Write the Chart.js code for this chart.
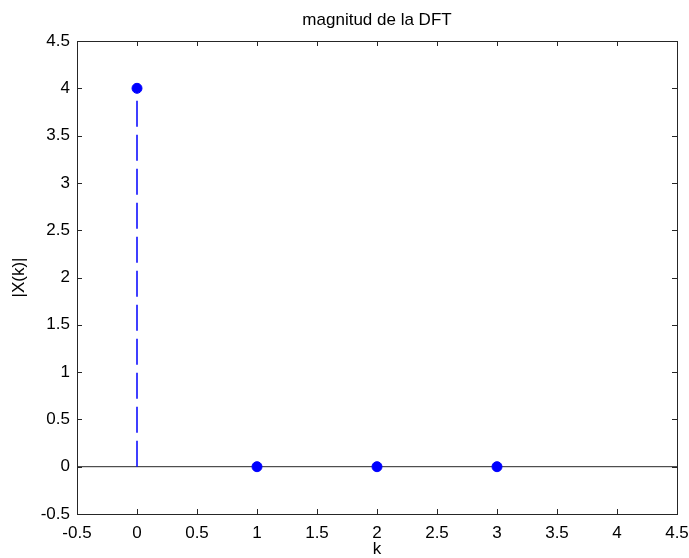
<!DOCTYPE html>
<html>
<head>
<meta charset="utf-8">
<script src="https://cdn.jsdelivr.net/npm/chart.js@4/dist/chart.umd.min.js"></script>
<style>
  html, body { margin: 0; padding: 0; background: #fff; }
  #wrap { width: 689px; height: 558px; }
</style>
</head>
<body>
<div id="wrap"><canvas id="myChart"></canvas></div>
<script>
// stem plot data: |X(k)|
let kValues = [0, 1, 2, 3];
let magnitudes = [4, 0, 0, 0];
let axisMin = -0.5;
let axisMax = 4.5;
let tickStep = 0.5;

let blue = "#0000ff";
let axisColor = "#262626";

// one dashed line per stem, from 0 up to the value
let stemSets = kValues.map((k, i) => ({
    type: "line",
    data: [{ x: k, y: 0 }, { x: k, y: magnitudes[i] }],
    borderColor: blue,
    borderWidth: 1.5,
    borderDash: [26, 8],
    pointRadius: 0,
    order: 2
}));

// baseline at zero across the whole axis
let baseline = {
    type: "line",
    data: [{ x: axisMin, y: 0 }, { x: axisMax, y: 0 }],
    borderColor: axisColor,
    borderWidth: 1,
    pointRadius: 0,
    order: 3
};

let markers = {
    type: "scatter",
    data: kValues.map((k, i) => ({ x: k, y: magnitudes[i] })),
    backgroundColor: blue,
    borderColor: blue,
    pointRadius: 5,
    pointHoverRadius: 5,
    order: 1
};

// MATLAB style box with inward ticks on every side
const boxTicks = {
    id: "boxTicks",
    afterDraw(chart) {
        const ctx = chart.ctx;
        const a = chart.chartArea;
        const xs = chart.scales.x;
        const ys = chart.scales.y;
        const len = 5;
        ctx.save();
        ctx.strokeStyle = axisColor;
        ctx.lineWidth = 1;
        ctx.beginPath();
        xs.ticks.forEach(t => {
            let px = Math.round(xs.getPixelForValue(t.value)) + 0.5;
            ctx.moveTo(px, a.bottom); ctx.lineTo(px, a.bottom - len);
            ctx.moveTo(px, a.top); ctx.lineTo(px, a.top + len);
        });
        ys.ticks.forEach(t => {
            let py = Math.round(ys.getPixelForValue(t.value)) + 0.5;
            ctx.moveTo(a.left, py); ctx.lineTo(a.left + len, py);
            ctx.moveTo(a.right, py); ctx.lineTo(a.right - len, py);
        });
        ctx.stroke();
        ctx.strokeRect(Math.round(a.left) + 0.5, Math.round(a.top) + 0.5,
            Math.round(a.right - a.left), Math.round(a.bottom - a.top));
        ctx.restore();
    }
};

let tickFont = { family: "'Liberation Sans', Arial, sans-serif", size: 17 };
let fmt = v => String(Math.round(v * 10) / 10);

new Chart(document.getElementById("myChart"), {
    data: { datasets: [...stemSets, baseline, markers] },
    options: {
        responsive: true,
        maintainAspectRatio: false,
        animation: false,
        layout: { padding: { left: 0, right: 12, top: 0, bottom: 0 } },
        plugins: {
            legend: { display: false },
            tooltip: { enabled: false },
            title: { display: false }
        },
        scales: {
            x: {
                type: "linear",
                min: axisMin,
                max: axisMax,
                grid: { display: false, drawTicks: false },
                border: { display: false },
                ticks: {
                    stepSize: tickStep,
                    color: "#000",
                    font: tickFont,
                    padding: 9,
                    maxRotation: 0,
                    autoSkip: false,
                    callback: fmt
                },
                title: {
                    display: true,
                    text: "k",
                    color: "#000",
                    font: tickFont,
                    padding: { top: 0, bottom: -2 }
                },
                afterFit(scale) {
                    scale.height = 44;
                    scale.paddingLeft = 0;
                    scale.paddingRight = 0;
                }
            },
            // top axis only carries the plot title, centred over the plot box
            top: {
                type: "linear",
                position: "top",
                min: axisMin,
                max: axisMax,
                grid: { display: false, drawTicks: false },
                border: { display: false },
                ticks: { display: false },
                title: {
                    display: true,
                    text: "magnitud de la DFT",
                    color: "#000",
                    font: tickFont,
                    padding: { top: 10, bottom: 0 }
                },
                afterFit(scale) {
                    scale.height = 41;
                    scale.paddingLeft = 0;
                    scale.paddingRight = 0;
                }
            },
            y: {
                type: "linear",
                min: axisMin,
                max: axisMax,
                grid: { display: false, drawTicks: false },
                border: { display: false },
                ticks: {
                    stepSize: tickStep,
                    color: "#000",
                    font: tickFont,
                    padding: 7,
                    autoSkip: false,
                    callback: fmt
                },
                title: {
                    display: true,
                    text: "|X(k)|",
                    color: "#000",
                    font: tickFont,
                    padding: { top: 9, bottom: 0 }
                },
                afterFit(scale) {
                    scale.width = 77;
                    scale.paddingTop = 0;
                    scale.paddingBottom = 0;
                }
            }
        }
    },
    plugins: [boxTicks]
});
</script>
</body>
</html>
